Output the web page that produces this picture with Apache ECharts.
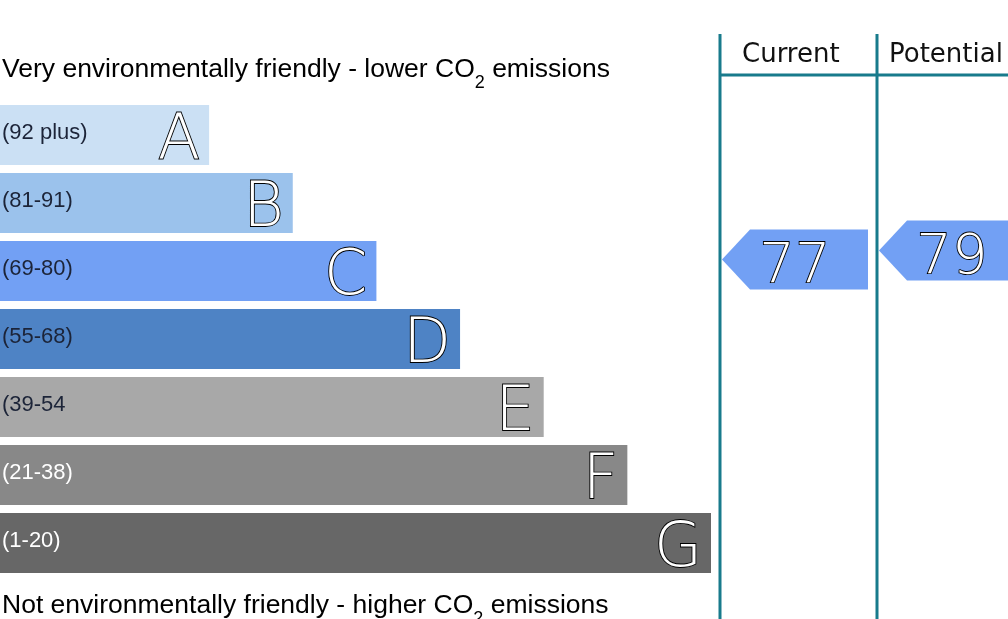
<!DOCTYPE html>
<html>
<head>
<meta charset="utf-8">
<script src="https://cdn.jsdelivr.net/npm/echarts@6/dist/echarts.min.js"></script>
<style>
  html, body { margin: 0; padding: 0; background: #fff; }
  #chart { width: 1008px; height: 619px; }
</style>
</head>
<body>
<div id="chart"></div>
<script>
// rating bands, top to bottom
const bandLetters = ['A', 'B', 'C', 'D', 'E', 'F', 'G']
const bandRanges = ['(92 plus)', '(81-91)', '(69-80)', '(55-68)', '(39-54', '(21-38)', '(1-20)']
const bandLengths = [25, 35, 45, 55, 65, 75, 85]
const bandColors = ['#cbe0f4', '#9bc2ec', '#72a0f4', '#4e83c5', '#a8a8a8', '#888888', '#676767']
const rangeTextColors = ['#1c2438', '#1c2438', '#1c2438', '#1c2438', '#1c2438', '#ffffff', '#ffffff']

// current / potential ratings (x = column index)
const ratingColumns = [0, 1]
const ratingValues = [77, 79]
const ratingColor = '#72a0f4'

const teal = '#187b8c'
const font = '"Liberation Sans", Arial, sans-serif'
const wideFont = '"DejaVu Sans", sans-serif'

const chart = echarts.init(document.getElementById('chart'))

const sideText = (top, text) => ({
  type: 'text', left: 2, top,
  style: {
    text,
    rich: {
      t: { fontFamily: font, fontSize: 26.5, color: '#111', verticalAlign: 'bottom', lineHeight: 30 },
      s: { fontFamily: font, fontSize: 18, color: '#111', verticalAlign: 'bottom', lineHeight: 30, padding: [0, 0, -9, 0] }
    }
  }
})

const option = {
  animation: false,
  grid: [
    { left: 0, top: 101, width: 711, height: 476 },
    { left: 720, top: 156, right: 0, height: 450 }
  ],
  xAxis: [
    { gridIndex: 0, type: 'value', min: 0, max: 85, show: false },
    { gridIndex: 1, type: 'value', min: 0, max: 288 / 157, show: false }
  ],
  yAxis: [
    { gridIndex: 0, type: 'category', data: bandLetters, inverse: true, show: false },
    { gridIndex: 1, type: 'value', min: 0, max: 100, show: false }
  ],
  series: [
    {
      type: 'bar',
      xAxisIndex: 0,
      yAxisIndex: 0,
      barWidth: 60,
      data: bandLengths.map((v, i) => ({ value: v, itemStyle: { color: bandColors[i] } })),
      label: {
        show: true,
        position: 'insideRight',
        distance: 9,
        offset: [0, 7],
        formatter: p => bandLetters[p.dataIndex],
        color: '#fff',
        fontFamily: wideFont,
        fontWeight: 'lighter',
        fontSize: 62,
        textBorderColor: '#000',
        textBorderWidth: 1.8
      }
    },
    {
      type: 'bar',
      xAxisIndex: 0,
      yAxisIndex: 0,
      barWidth: 60,
      barGap: '-100%',
      data: bandLengths.map((v, i) => ({
        value: v,
        label: { color: rangeTextColors[i] }
      })),
      itemStyle: { color: 'rgba(0,0,0,0)' },
      label: {
        show: true,
        position: 'insideLeft',
        distance: 2,
        offset: [0, -2],
        formatter: p => bandRanges[p.dataIndex],
        fontFamily: font,
        fontSize: 22
      }
    },
    {
      type: 'custom',
      xAxisIndex: 1,
      yAxisIndex: 1,
      clip: false,
      data: ratingValues.map((v, i) => [ratingColumns[i], v]),
      renderItem: (params, api) => {
        const c = api.coord([api.value(0), api.value(1)])
        const x0 = c[0] + 2
        const y = c[1]
        const h = 30
        const pts = [[x0, y], [x0 + 28, y - h], [x0 + 146, y - h], [x0 + 146, y + h], [x0 + 28, y + h]]
        return {
          type: 'group',
          children: [
            { type: 'polygon', shape: { points: pts }, style: { fill: ratingColor } },
            {
              type: 'text',
              x: x0 + 73,
              y: y + 8,
              style: {
                text: String(api.value(1)),
                align: 'center',
                verticalAlign: 'middle',
                fill: '#fff',
                font: 'lighter 56px ' + wideFont,
                stroke: '#000',
                lineWidth: 1.8
              }
            }
          ]
        }
      }
    }
  ],
  graphic: [
    { type: 'line', shape: { x1: 720, y1: 34, x2: 720, y2: 619 }, style: { stroke: teal, lineWidth: 3 } },
    { type: 'line', shape: { x1: 877, y1: 34, x2: 877, y2: 619 }, style: { stroke: teal, lineWidth: 3 } },
    { type: 'line', shape: { x1: 720, y1: 75, x2: 1008, y2: 75 }, style: { stroke: teal, lineWidth: 3 } },
    {
      type: 'text', left: 742, top: 42,
      style: { text: 'Current', font: '26px ' + wideFont, fill: '#111' }
    },
    {
      type: 'text', left: 889, top: 42,
      style: { text: 'Potential', font: '26px ' + wideFont, fill: '#111' }
    },
    sideText(56, '{t|Very environmentally friendly - lower CO}{s|2}{t| emissions}'),
    sideText(592, '{t|Not environmentally friendly - higher CO}{s|2}{t| emissions}')
  ]
}

chart.setOption(option)
window.addEventListener('resize', () => chart.resize())
</script>
</body>
</html>
